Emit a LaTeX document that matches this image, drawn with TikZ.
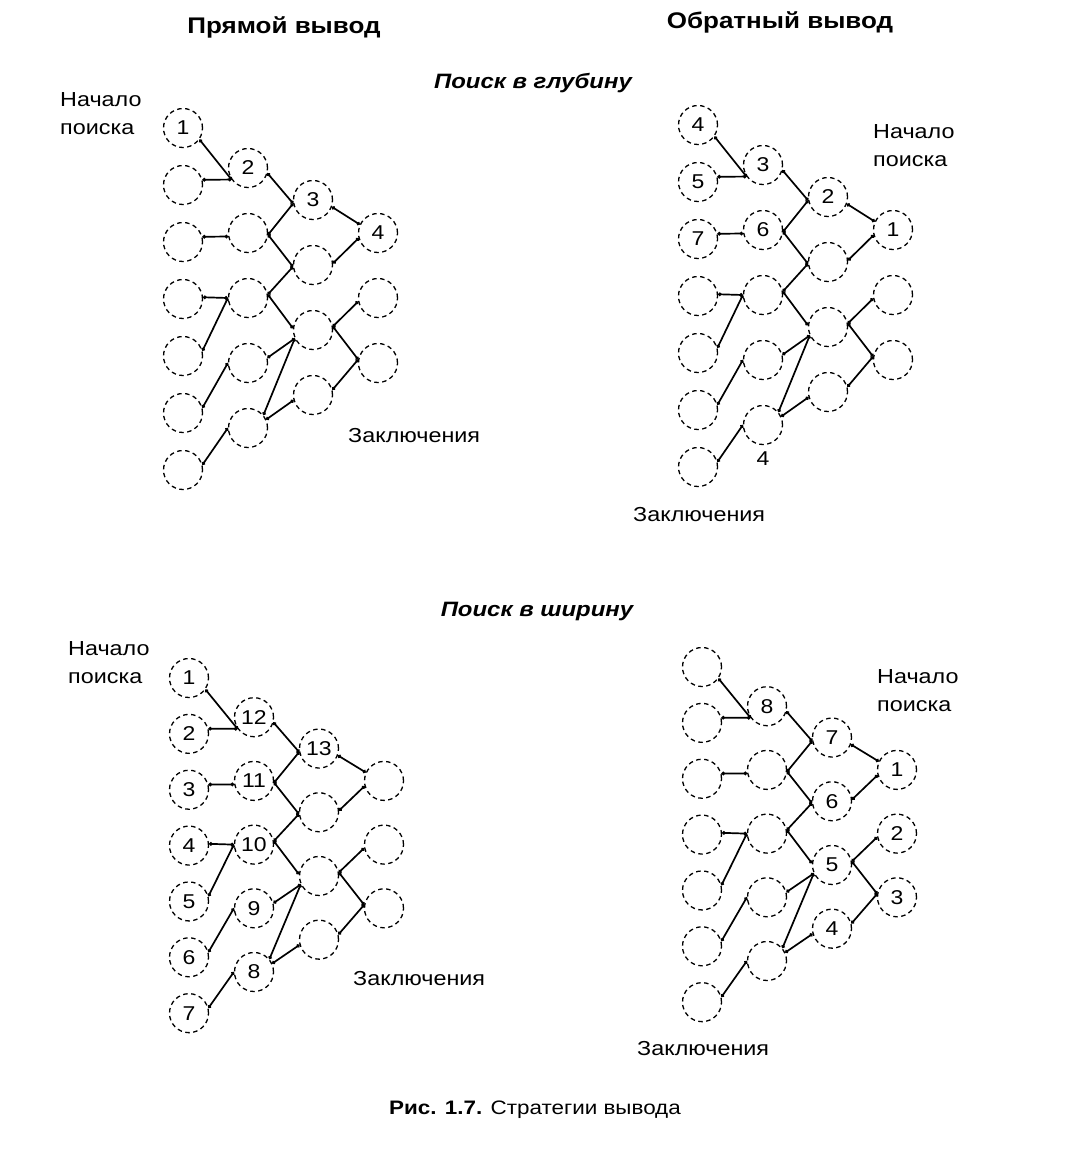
\documentclass[tikz,border=0pt]{standalone}
\usepackage{fontspec}
\setmainfont[FakeStretch=1.15]{Liberation Sans}
\usetikzlibrary{arrows.meta}

\begin{document}
\begin{tikzpicture}[x=1pt,y=-1pt]

\tikzset{vertex/.style = {shape=circle,draw,dash pattern=on 4.5pt off 3.5pt,line width=1.3pt,minimum size=39pt,inner sep=0pt}}
\tikzset{edge/.style = {line width=1.7pt,{Circle[length=3.5pt]}-{Circle[length=3.5pt]}}}
\tikzset{num/.style = {font=\fontsize{20}{24}\selectfont,inner sep=0pt}}
\tikzset{txt/.style = {font=\fontsize{20.3}{28}\selectfont,align=left,anchor=west,inner sep=0pt}}
\tikzset{title/.style = {font=\fontsize{22.6}{26}\selectfont\bfseries}}
\tikzset{search/.style = {font=\fontsize{20.8}{25}\selectfont\bfseries\itshape}}

\useasboundingbox (0,0) rectangle (1067,1168);

%verticies and edges of the four nets
\foreach \p/\ox/\oy/\sy in {tl/183/128/1, tr/698/125/1, bl/189/678/0.98, br/702/667/0.98}{
  \begin{scope}[shift={(\ox,\oy)},yscale=\sy]
    \foreach \i in {1,...,7} \node[vertex] (\p-a\i) at (0,{57*(\i-1)}) {};
    \foreach \i in {1,...,5} \node[vertex] (\p-b\i) at (65,{40+65*(\i-1)}) {};
    \foreach \i in {1,...,4} \node[vertex] (\p-c\i) at (130,{72+65*(\i-1)}) {};
    \foreach \i in {1,...,3} \node[vertex] (\p-d\i) at (195,{105+65*(\i-1)}) {};
  \end{scope}
  \foreach \s/\as/\t/\at in {a1/-35/b1/215, a2/15/b1/215, a3/15/b2/190, a4/5/b3/180,
      a5/15/b3/180, a6/15/b4/180, a7/15/b5/180, b1/-15/c1/190, b2/-5/c1/190,
      b2/-5/c2/185, b3/10/c2/185, b3/10/c3/175, b4/15/c3/205, b5/40/c3/205,
      b5/25/c4/195, c1/-20/d1/155, c2/5/d1/195, c3/10/d2/190, c3/10/d3/170,
      c4/15/d3/170}
    \draw[edge] (\p-\s.\as) -- (\p-\t.\at);
}

%numbers
\foreach \n/\t in {tl-a1/1, tl-b1/2, tl-c1/3, tl-d1/4,
    tr-a1/4, tr-a2/5, tr-a3/7, tr-b1/3, tr-b2/6, tr-c1/2, tr-d1/1,
    bl-a1/1, bl-a2/2, bl-a3/3, bl-a4/4, bl-a5/5, bl-a6/6, bl-a7/7,
    bl-b1/12, bl-b2/11, bl-b3/10, bl-b4/9, bl-b5/8, bl-c1/13,
    br-b1/8, br-c1/7, br-c2/6, br-c3/5, br-c4/4, br-d1/1, br-d2/2, br-d3/3}
  \node[num] (\n-t) at (\n) {\t};
\node[num] (tr-b5-t) at ([yshift=-34pt]tr-b5) {4};

%titles
\node[title] (direct) at (284,27) {Прямой вывод};
\node[title] (back) at (780,22) {Обратный вывод};
\node[search] (depth) at (533,83) {Поиск в глубину};
\node[search] (width) at (537,611) {Поиск в ширину};

%start and goal labels
\node[txt] (tl-start) at (60,114) {Начало\\поиска};
\node[txt] (tr-start) at (873,146) {Начало\\поиска};
\node[txt] (bl-start) at (68,663) {Начало\\поиска};
\node[txt] (br-start) at (877,691) {Начало\\поиска};
\node[txt] (tl-goal) at (348,436) {Заключения};
\node[txt] (tr-goal) at (633,515) {Заключения};
\node[txt] (bl-goal) at (353,979) {Заключения};
\node[txt] (br-goal) at (637,1049) {Заключения};

\node[font=\fontsize{19.5}{23}\selectfont] (caption) at (535,1110) {\textbf{Рис. 1.7.} Стратегии вывода};

\end{tikzpicture}
\end{document}
